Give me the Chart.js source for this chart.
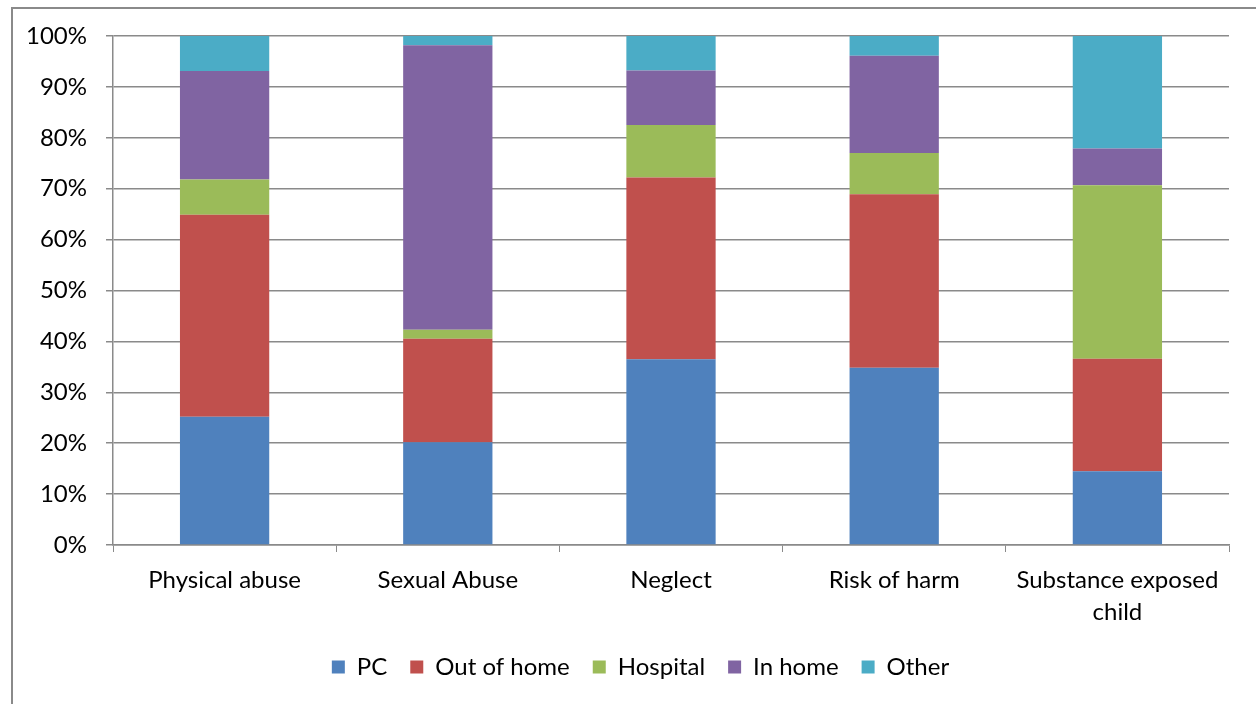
<!DOCTYPE html>
<html>
<head>
<meta charset="utf-8">
<script src="https://cdn.jsdelivr.net/npm/chart.js@4"></script>
<style>
    html, body { margin: 0; padding: 0; background: #fff; overflow: hidden; }
    #frame {
        position: absolute; left: 11px; top: 7px;
        width: 2000px; height: 2000px;
        border-left: 2px solid #8a8a8a; border-top: 2px solid #8a8a8a;
    }
    #wrap { position: absolute; left: 0; top: 0; width: 1256px; height: 704px; }
</style>
</head>
<body>
<div id="frame"></div>
<div id="wrap"><canvas id="myChart" width="1256" height="704"></canvas></div>
<script>

const labels = ['Physical abuse', 'Sexual Abuse', 'Neglect', 'Risk of harm', ['Substance exposed', 'child']];

const pc = [25.2, 20.2, 36.5, 34.8, 14.5];
const outOfHome = [39.7, 20.3, 35.7, 34.1, 22.1];
const hospital = [6.9, 1.8, 10.3, 8.1, 34.1];
const inHome = [21.3, 55.9, 10.7, 19.1, 7.2];
const other = [6.9, 1.8, 6.8, 3.9, 22.1];

const yTicks = [0, 10, 20, 30, 40, 50, 60, 70, 80, 90, 100];

const fontFamily = "Lato, sans-serif";
const gridColor = '#8a8a8a';

// nudge the legend right so it sits under the middle of the frame
const legendShift = {
    id: 'legendShift',
    afterLayout(chart) {
        chart.legend.left += 26;
        chart.legend.right += 26;
    }
};

function createChart() {

    const data = {
        labels: labels,
        datasets: [{
            label: 'PC',
            data: pc,
            backgroundColor: '#4F81BD'
        },
        {
            label: 'Out of home',
            data: outOfHome,
            backgroundColor: '#C0504D'
        },
        {
            label: 'Hospital',
            data: hospital,
            backgroundColor: '#9BBB59'
        },
        {
            label: 'In home',
            data: inHome,
            backgroundColor: '#8064A2'
        },
        {
            label: 'Other',
            data: other,
            backgroundColor: '#4BACC6'
        }]
    };

    const config = {
        type: 'bar',
        data: data,
        plugins: [legendShift],
        options: {
            responsive: false,
            animation: false,
            datasets: {
                bar: {
                    categoryPercentage: 1,
                    barPercentage: 0.4,
                    borderWidth: 0
                }
            },
            layout: {
                padding: { top: 36, right: 27, bottom: 15, left: 0 }
            },
            scales: {
                x: {
                    stacked: true,
                    afterFit: (scale) => { scale.height = 87; },
                    grid: {
                        offset: true,
                        drawOnChartArea: false,
                        drawTicks: true,
                        tickLength: 7,
                        color: gridColor
                    },
                    border: { color: gridColor, width: 1.5 },
                    ticks: {
                        color: '#000',
                        padding: 13,
                        maxRotation: 0,
                        autoSkip: false,
                        font: { family: fontFamily, size: 24, lineHeight: 1.3 }
                    }
                },
                y: {
                    stacked: true,
                    min: 0,
                    max: 100,
                    afterFit: (scale) => { scale.width = 113; },
                    afterBuildTicks: (scale) => {
                        scale.ticks = yTicks.map(v => ({ value: v }));
                    },
                    grid: {
                        color: gridColor,
                        lineWidth: 1.5,
                        tickLength: 7
                    },
                    border: { color: gridColor, width: 1.5 },
                    ticks: {
                        color: '#000',
                        padding: 19,
                        font: { family: fontFamily, size: 24 },
                        callback: (v) => v + '%'
                    }
                }
            },
            plugins: {
                legend: {
                    position: 'bottom',
                    labels: {
                        color: '#000',
                        boxWidth: 13,
                        boxHeight: 13,
                        padding: 23,
                        font: { family: fontFamily, size: 24 }
                    }
                },
                tooltip: { enabled: false }
            }
        }
    };

    const myChart = new Chart(
        document.getElementById('myChart'),
        config
    );
}

createChart();
</script>
</body>
</html>
